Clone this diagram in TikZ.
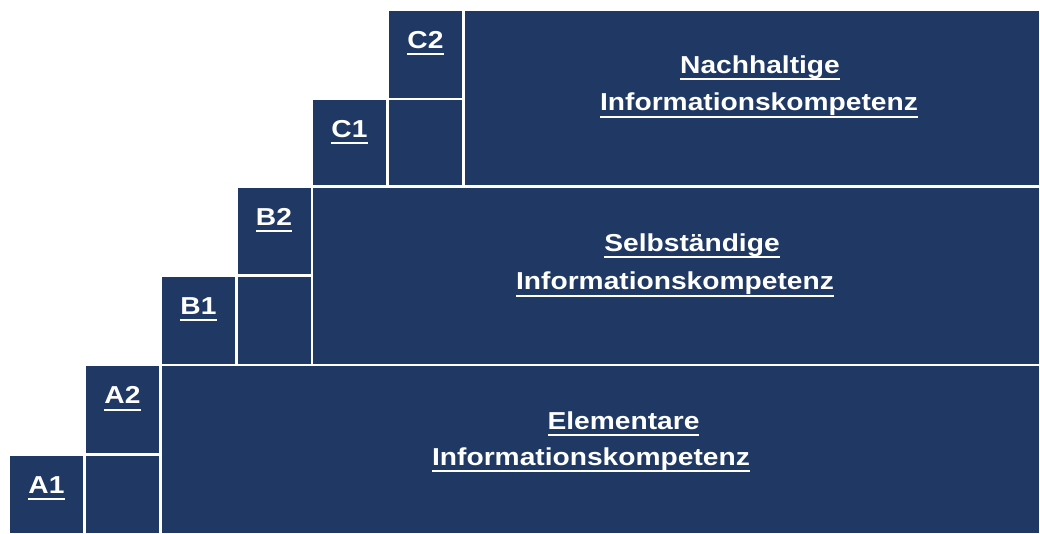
\documentclass[tikz,border=0pt]{standalone}
\usepackage{fontspec}
\usepackage{graphicx}
\setmainfont{Liberation Sans}
\definecolor{navy}{RGB}{31,56,100}
\newcommand\myul[1]{\setbox0=\hbox{#1}\rlap{\rule[-7pt]{\wd0}{2pt}}\box0}
\newcommand\lbl[1]{\scalebox{1.15}[1]{\myul{#1}}}
\tikzset{
  cell/.style={fill=navy},
  txt/.style={anchor=base, inner sep=0pt, text=white, font=\fontsize{24.5}{30}\selectfont\bfseries}
}
\begin{document}
\begin{tikzpicture}[x=1pt,y=-1pt]
\useasboundingbox (0,0) rectangle (1040,533);
% level A
\fill[cell] (10,455.7) rectangle (83,533);
\fill[cell] (86,455.7) rectangle (159,533);
\fill[cell] (86,366) rectangle (159,452.7);
\fill[cell] (161.5,366) rectangle (1039,533);
% level B
\fill[cell] (162,276.7) rectangle (235,363.7);
\fill[cell] (237.5,276.7) rectangle (310.5,363.7);
\fill[cell] (237.5,187.7) rectangle (310.5,274);
\fill[cell] (313,187.7) rectangle (1039,363.7);
% level C
\fill[cell] (313,99.7) rectangle (386,184.5);
\fill[cell] (389,99.7) rectangle (462,184.5);
\fill[cell] (389,10.7) rectangle (462,97.7);
\fill[cell] (465,10.7) rectangle (1039,184.7);
% labels
\node[txt] (a1) at (46.5,493.3) {\lbl{A1}};
\node[txt] (a2) at (122.5,403.5) {\lbl{A2}};
\node[txt] (b1) at (198.5,314.2) {\lbl{B1}};
\node[txt] (b2) at (274,225.2) {\lbl{B2}};
\node[txt] (c1) at (349.5,137.2) {\lbl{C1}};
\node[txt] (c2) at (425.5,48.2) {\lbl{C2}};
% titles
\node[txt] (n1) at (760,73.3) {\lbl{Nachhaltige}};
\node[txt] (n2) at (759,110.7) {\lbl{Informationskompetenz}};
\node[txt] (s1) at (692,251.2) {\lbl{Selbständige}};
\node[txt] (s2) at (675,289.7) {\lbl{Informationskompetenz}};
\node[txt] (e1) at (623.5,429) {\lbl{Elementare}};
\node[txt] (e2) at (591,465) {\lbl{Informationskompetenz}};
\end{tikzpicture}
\end{document}
